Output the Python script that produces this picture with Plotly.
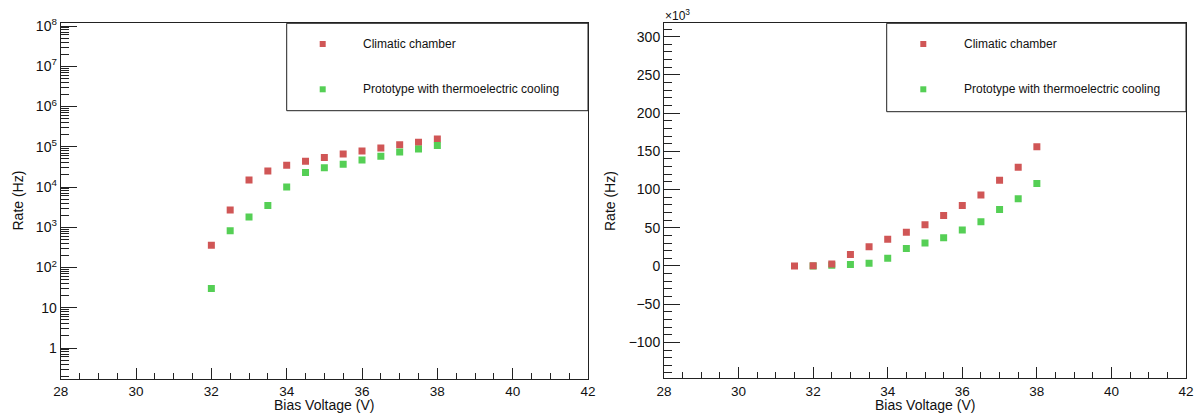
import numpy as np
import plotly.graph_objects as go

# ---- data (Hz) ----
volt_chamber = [31.5, 32, 32.5, 33, 33.5, 34, 34.5, 35, 35.5, 36, 36.5, 37, 37.5, 38]
rate_chamber = [0, 360, 2700, 15000, 25000, 35000, 44000, 54000, 66000, 79000, 93000, 112000, 129000, 156000]
volt_proto = [32, 32.5, 33, 33.5, 34, 34.5, 35, 35.5, 36, 36.5, 37, 37.5, 38]
rate_proto = [30, 820, 1800, 3500, 10000, 23000, 30000, 37000, 47000, 58000, 74000, 88000, 108000]

series_names = ["Climatic chamber", "Prototype with thermoelectric cooling"]
x_ticks = [28, 30, 32, 34, 36, 38, 40, 42]
log_tickvals = [1, 10, 100, 1e3, 1e4, 1e5, 1e6, 1e7, 1e8]
log_ticktext = ["1", "10", "10<sup>2</sup>", "10<sup>3</sup>", "10<sup>4</sup>",
                "10<sup>5</sup>", "10<sup>6</sup>", "10<sup>7</sup>", "10<sup>8</sup>"]
lin_ticks = [-100, -50, 0, 50, 100, 150, 200, 250, 300]

RED = "#d05656"
GREEN = "#55cf55"
FONT = "Liberation Sans, Arial, sans-serif"

W, H = 1202, 414
def px(x):
    return x / W
def py(y):
    return 1 - y / H

fig = go.Figure()

vc = np.array(volt_chamber); rc = np.array(rate_chamber, dtype=float)
vp = np.array(volt_proto); rp = np.array(rate_proto, dtype=float)
mc = rc > 0
mp = rp > 0
# Left (log) panel
fig.add_trace(go.Scatter(x=vc[mc], y=rc[mc], mode="markers", name=series_names[0],
                         marker=dict(symbol="square", size=7, color=RED), xaxis="x", yaxis="y",
                         showlegend=False))
fig.add_trace(go.Scatter(x=vp[mp], y=rp[mp], mode="markers", name=series_names[1],
                         marker=dict(symbol="square", size=7, color=GREEN), xaxis="x", yaxis="y",
                         showlegend=False))
# Right (linear, x10^3) panel
fig.add_trace(go.Scatter(x=vp, y=rp / 1000.0, mode="markers", name=series_names[1],
                         marker=dict(symbol="square", size=7, color=GREEN), xaxis="x2", yaxis="y2",
                         showlegend=False))
fig.add_trace(go.Scatter(x=vc, y=rc / 1000.0, mode="markers", name=series_names[0],
                         marker=dict(symbol="square", size=7, color=RED), xaxis="x2", yaxis="y2",
                         showlegend=False))

log_minor = []
for k in range(-1, 9):
    for m in range(2, 10):
        log_minor.append(m * 10.0 ** k)

axis_common = dict(showline=True, mirror=True, linecolor="#222", linewidth=1,
                   showgrid=False, zeroline=False, ticks="inside", tickcolor="#222",
                   automargin=False)
xfont = dict(family=FONT, size=13.5, color="#111")
yfont = dict(family=FONT, size=14, color="#111")

fig.update_layout(
    width=W, height=H, margin=dict(l=0, r=0, t=0, b=0),
    paper_bgcolor="white", plot_bgcolor="white",
    font=dict(family=FONT, color="#111"),
    xaxis=dict(domain=[px(60.7), px(588)], range=[28, 42], tickvals=x_ticks, ticklen=11,
               tickfont=xfont,
               minor=dict(ticks="inside", ticklen=6, dtick=0.5, tickcolor="#222", showgrid=False),
               anchor="y", **axis_common),
    yaxis=dict(domain=[py(379), py(23.3)], type="log", range=[np.log10(0.17), np.log10(1.17e8)],
               tickvals=log_tickvals, ticktext=log_ticktext, ticklen=16, tickfont=yfont,
               minor=dict(ticks="inside", ticklen=8, tickvals=log_minor, tickcolor="#222", showgrid=False),
               anchor="x", **axis_common),
    xaxis2=dict(domain=[px(664), px(1186)], range=[28, 42], tickvals=x_ticks, ticklen=11,
                tickfont=xfont,
                minor=dict(ticks="inside", ticklen=6, dtick=0.5, tickcolor="#222", showgrid=False),
                anchor="y2", **axis_common),
    yaxis2=dict(domain=[py(378.3), py(23.3)], range=[-147, 317.5], tickvals=lin_ticks, ticklen=16,
                tickfont=yfont,
                minor=dict(ticks="inside", ticklen=8, dtick=10, tickcolor="#222", showgrid=False),
                anchor="x2", **axis_common),
)

# Legend boxes
shapes = []
annots = []
for (x0, x1, y0, y1, mx, tx) in [(286.7, 588, 23.3, 110.7, 322.7, 361),
                                 (886.7, 1186, 23.3, 111.7, 923.3, 961.7)]:
    shapes.append(dict(type="rect", xref="paper", yref="paper", x0=px(x0), x1=px(x1),
                       y0=py(y1), y1=py(y0), line=dict(color="#222", width=1), fillcolor="white",
                       layer="above"))
    for (yy, col, name) in [(44, RED, series_names[0]), (89.3, GREEN, series_names[1])]:
        shapes.append(dict(type="rect", xref="paper", yref="paper", x0=px(mx - 3), x1=px(mx + 3),
                           y0=py(yy + 3), y1=py(yy - 3), line=dict(width=0), fillcolor=col,
                           layer="above"))
        annots.append(dict(xref="paper", yref="paper", x=px(tx), y=py(yy), text=name,
                           showarrow=False, xanchor="left", yanchor="middle",
                           font=dict(family=FONT, size=12, color="#111")))

# Axis titles
for cx in [(60.7 + 588) / 2, (664 + 1186) / 2]:
    annots.append(dict(xref="paper", yref="paper", x=px(cx), y=py(405), text="Bias Voltage (V)",
                       showarrow=False, xanchor="center", yanchor="middle",
                       font=dict(family=FONT, size=14, color="#111")))
for cxx in [17.5, 610]:
    annots.append(dict(xref="paper", yref="paper", x=px(cxx), y=py(201), text="Rate (Hz)",
                       showarrow=False, xanchor="center", yanchor="middle", textangle=-90,
                       font=dict(family=FONT, size=14, color="#111")))
annots.append(dict(xref="paper", yref="paper", x=px(663), y=py(15), text="×10<sup>3</sup>",
                   showarrow=False, xanchor="left", yanchor="middle",
                   font=dict(family=FONT, size=12, color="#111")))

fig.update_layout(shapes=shapes, annotations=annots)
fig.write_html("out.html")
